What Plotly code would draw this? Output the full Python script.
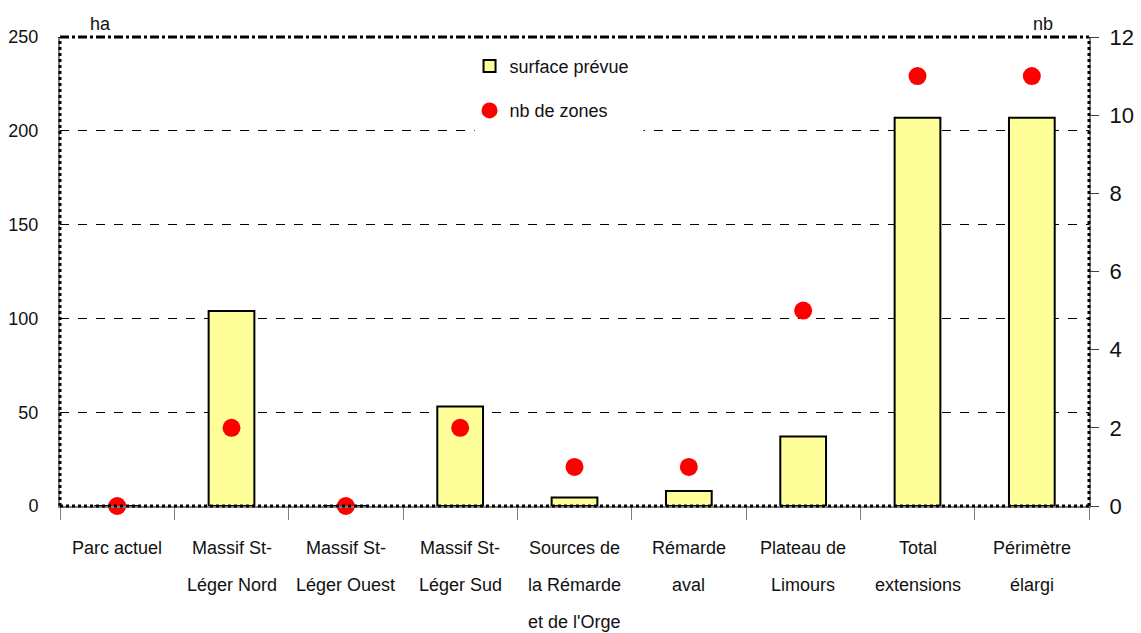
import plotly.graph_objects as go

categories = ["Parc actuel", "Massif St-<br>Léger Nord", "Massif St-<br>Léger Ouest", "Massif St-<br>Léger Sud",
              "Sources de<br>la Rémarde<br>et de l'Orge", "Rémarde<br>aval", "Plateau de<br>Limours",
              "Total<br>extensions", "Périmètre<br>élargi"]
surface = [0, 104, 0, 53, 4.5, 8, 37, 207, 207]
nb_zones = [0, 2, 0, 2, 1, 1, 5, 11, 11]
left_ticks = [0, 50, 100, 150, 200, 250]
right_ticks = [0, 2, 4, 6, 8, 10, 12]

FONT = "Liberation Sans, Arial"

keys = [f"c{i}" for i in range(len(categories))]

fig = go.Figure()
fig.add_trace(go.Bar(x=keys, y=surface, name="surface prévue",
                     marker=dict(color="#FFFF99", line=dict(color="black", width=2)),
                     legendgroup="a"))
fig.add_trace(go.Scatter(x=keys, y=nb_zones, name="nb de zones", mode="markers", yaxis="y2",
                         marker=dict(color="#FF0000", size=18), cliponaxis=False,
                         legendgroup="b"))

# category labels, one annotation per line
for k, lab in zip(keys, categories):
    for j, line in enumerate(lab.split("<br>")):
        fig.add_annotation(x=k, y=0, xref="x", yref="y", text=line, showarrow=False,
                           yshift=-42 - 37 * j, font=dict(family=FONT, size=18, color="#111"))

fig.add_annotation(x=0.039, y=1.0, xref="paper", yref="paper", text="ha", showarrow=False,
                   xanchor="center", yanchor="bottom", yshift=1,
                   font=dict(family=FONT, size=18, color="#111"))
fig.add_annotation(x=0.955, y=1.0, xref="paper", yref="paper", text="nb", showarrow=False,
                   xanchor="center", yanchor="bottom", yshift=1,
                   font=dict(family=FONT, size=18, color="#111"))

# white legend backing that interrupts the gridline behind the legend box
fig.add_shape(type="rect", xref="paper", yref="paper", x0=0.403, x1=0.567, y0=0.78, y1=0.99,
              fillcolor="white", line=dict(width=0), layer="above")

# frame
fig.add_shape(type="line", xref="paper", yref="paper", x0=0, x1=1, y0=1, y1=1,
              line=dict(color="black", width=3, dash="dashdot"))
for (x0, x1, y0, y1) in [(0, 0, 0, 1), (1, 1, 0, 1), (0, 1, 0, 0)]:
    fig.add_shape(type="line", xref="paper", yref="paper", x0=x0, x1=x1, y0=y0, y1=y1,
                  line=dict(color="black", width=3, dash="dot"))

fig.update_layout(
    template="none",
    width=1141, height=633,
    margin=dict(l=60, r=52, t=37, b=127, autoexpand=False),
    paper_bgcolor="white", plot_bgcolor="white",
    bargap=0.6,
    showlegend=True,
    legend=dict(x=0.398, y=0.977, xanchor="left", yanchor="top", bgcolor="white",
                font=dict(family=FONT, size=18, color="#111"), tracegroupgap=18,
                traceorder="grouped", itemwidth=30),
    xaxis=dict(showticklabels=False, tickson="boundaries", ticks="outside", ticklen=12,
               tickcolor="#808080", showline=True, linecolor="#808080", linewidth=2,
               showgrid=False, range=[-0.5, 8.5], automargin=False),
    yaxis=dict(range=[0, 250], tickvals=left_ticks, showgrid=True, gridcolor="black",
               griddash="dash", gridwidth=1, zeroline=False, showline=True, linecolor="#808080",
               linewidth=2, ticks="", ticklabelstandoff=16, automargin=False,
               tickfont=dict(family=FONT, size=18, color="#111")),
    yaxis2=dict(range=[0, 12], tickvals=right_ticks, overlaying="y", side="right",
                showgrid=False, zeroline=False, showline=True, linecolor="#808080", linewidth=2,
                ticks="outside", ticklen=8, tickcolor="#404040", ticklabelstandoff=6,
                automargin=False, tickfont=dict(family=FONT, size=22, color="#111")),
)

fig.write_html("out.html", config={"displayModeBar": False},
               post_script="document.body.style.margin='0';document.body.style.overflow='hidden';")
